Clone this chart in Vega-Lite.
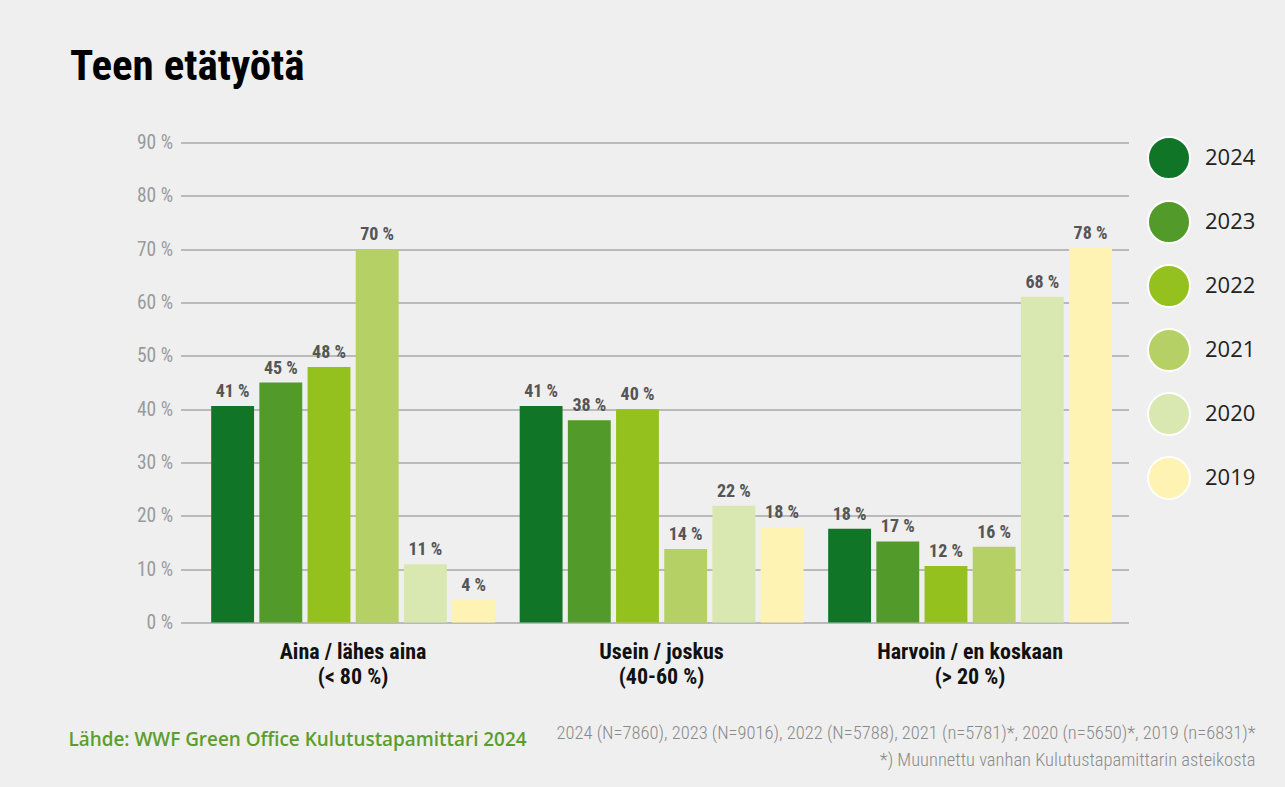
{
  "$schema": "https://vega.github.io/schema/vega-lite/v6.json",
  "width": 948,
  "height": 480,
  "autosize": {"type": "none"},
  "padding": {"left": 180.5, "top": 142.5, "right": 156.5, "bottom": 164.5},
  "background": "#efefef",
  "title": {
    "text": "Teen etätyötä",
    "anchor": "start",
    "frame": "group",
    "dx": -110.5,
    "offset": 10,
    "baseline": "alphabetic",
    "font": "Roboto Condensed, Roboto, sans-serif",
    "fontWeight": "bold",
    "fontSize": 43,
    "color": "#000000"
  },
  "data": {
    "values": [
      {"cat": "Aina / lähes aina|(< 80 %)", "year": "2024", "bar": 40.6, "label": "41 %"},
      {"cat": "Aina / lähes aina|(< 80 %)", "year": "2023", "bar": 45.0, "label": "45 %"},
      {"cat": "Aina / lähes aina|(< 80 %)", "year": "2022", "bar": 47.9, "label": "48 %"},
      {"cat": "Aina / lähes aina|(< 80 %)", "year": "2021", "bar": 70.0, "label": "70 %"},
      {"cat": "Aina / lähes aina|(< 80 %)", "year": "2020", "bar": 10.9, "label": "11 %"},
      {"cat": "Aina / lähes aina|(< 80 %)", "year": "2019", "bar": 4.3, "label": "4 %"},
      {"cat": "Usein / joskus|(40-60 %)", "year": "2024", "bar": 40.6, "label": "41 %"},
      {"cat": "Usein / joskus|(40-60 %)", "year": "2023", "bar": 37.9, "label": "38 %"},
      {"cat": "Usein / joskus|(40-60 %)", "year": "2022", "bar": 40.0, "label": "40 %"},
      {"cat": "Usein / joskus|(40-60 %)", "year": "2021", "bar": 13.8, "label": "14 %"},
      {"cat": "Usein / joskus|(40-60 %)", "year": "2020", "bar": 21.9, "label": "22 %"},
      {"cat": "Usein / joskus|(40-60 %)", "year": "2019", "bar": 17.9, "label": "18 %"},
      {"cat": "Harvoin / en koskaan|(> 20 %)", "year": "2024", "bar": 17.6, "label": "18 %"},
      {"cat": "Harvoin / en koskaan|(> 20 %)", "year": "2023", "bar": 15.2, "label": "17 %"},
      {"cat": "Harvoin / en koskaan|(> 20 %)", "year": "2022", "bar": 10.6, "label": "12 %"},
      {"cat": "Harvoin / en koskaan|(> 20 %)", "year": "2021", "bar": 14.2, "label": "16 %"},
      {"cat": "Harvoin / en koskaan|(> 20 %)", "year": "2020", "bar": 61.1, "label": "68 %"},
      {"cat": "Harvoin / en koskaan|(> 20 %)", "year": "2019", "bar": 70.2, "label": "78 %"}
    ]
  },
  "encoding": {
    "x": {
      "field": "cat",
      "type": "nominal",
      "sort": null,
      "scale": {"paddingInner": 0.08, "paddingOuter": 0.0765, "align": 0.65},
      "axis": {
        "title": "Lähde: WWF Green Office Kulutustapamittari 2024",
        "titleX": -112.5,
        "titleY": 122.5,
        "titleAlign": "left",
        "titleBaseline": "alphabetic",
        "titleAngle": 0,
        "titleFont": "Open Sans",
        "titleFontWeight": 600,
        "titleFontSize": 18.9,
        "titleColor": "#5c9e2e",
        "labelExpr": "split(datum.label, '|')",
        "labelAngle": 0,
        "labelLimit": 0,
        "labelFont": "Roboto Condensed, Roboto, sans-serif",
        "labelFontWeight": "bold",
        "labelFontSize": 22,
        "labelLineHeight": 24.5,
        "labelColor": "#111111",
        "labelPadding": 19,
        "domain": false,
        "ticks": false,
        "grid": false
      }
    },
    "xOffset": {
      "field": "year",
      "type": "nominal",
      "sort": ["2024", "2023", "2022", "2021", "2020", "2019"],
      "scale": {"paddingInner": 0.11, "paddingOuter": 0}
    },
    "y": {
      "field": "bar",
      "type": "quantitative",
      "scale": {"domain": [0, 90], "nice": false},
      "axis": {
        "values": [0, 10, 20, 30, 40, 50, 60, 70, 80, 90],
        "labelExpr": "datum.value + ' %'",
        "labelFont": "Roboto Condensed, Roboto, sans-serif",
        "labelFontSize": 19.5,
        "labelColor": "#9a9a9a",
        "labelPadding": 8,
        "domain": false,
        "ticks": false,
        "grid": true,
        "gridColor": "#a8a8a8",
        "gridWidth": 1.6,
        "title": ["2024 (N=7860), 2023 (N=9016), 2022 (N=5788), 2021 (n=5781)*, 2020 (n=5650)*, 2019 (n=6831)*", "*) Muunnettu vanhan Kulutustapamittarin asteikosta"],
        "titleAngle": 0,
        "titleX": 1074.5,
        "titleY": 596,
        "titleAlign": "right",
        "titleBaseline": "alphabetic",
        "titleFont": "Roboto Condensed, Roboto, sans-serif",
        "titleFontWeight": 300,
        "titleFontSize": 18.5,
        "titleLineHeight": 27,
        "titleColor": "#8a8a8a"
      }
    }
  },
  "layer": [
    {
      "mark": {"type": "bar"},
      "encoding": {
        "color": {
          "field": "year",
          "type": "nominal",
          "sort": ["2024", "2023", "2022", "2021", "2020", "2019"],
          "scale": {
            "domain": ["2024", "2023", "2022", "2021", "2020", "2019"],
            "range": ["#117527", "#529a2a", "#95c11f", "#b5d166", "#d9e8b0", "#fff3b3"]
          },
          "legend": {
            "title": null,
            "orient": "none",
            "legendX": 966.5,
            "legendY": -6.5,
            "padding": 0,
            "symbolType": "circle",
            "symbolSize": 1764,
            "symbolStrokeColor": "#ffffff",
            "symbolStrokeWidth": 2,
            "symbolOpacity": 1,
            "labelFont": "Open Sans",
            "labelFontSize": 22,
            "labelColor": "#222222",
            "labelOffset": 14,
            "rowPadding": 14
          }
        }
      }
    },
    {
      "mark": {
        "type": "text",
        "baseline": "alphabetic",
        "dy": -9,
        "font": "Roboto Condensed, Roboto, sans-serif",
        "fontWeight": "bold",
        "fontSize": 18,
        "color": "#555555"
      },
      "encoding": {
        "text": {"field": "label", "type": "nominal"}
      }
    }
  ],
  "config": {
    "view": {"stroke": null}
  }
}
